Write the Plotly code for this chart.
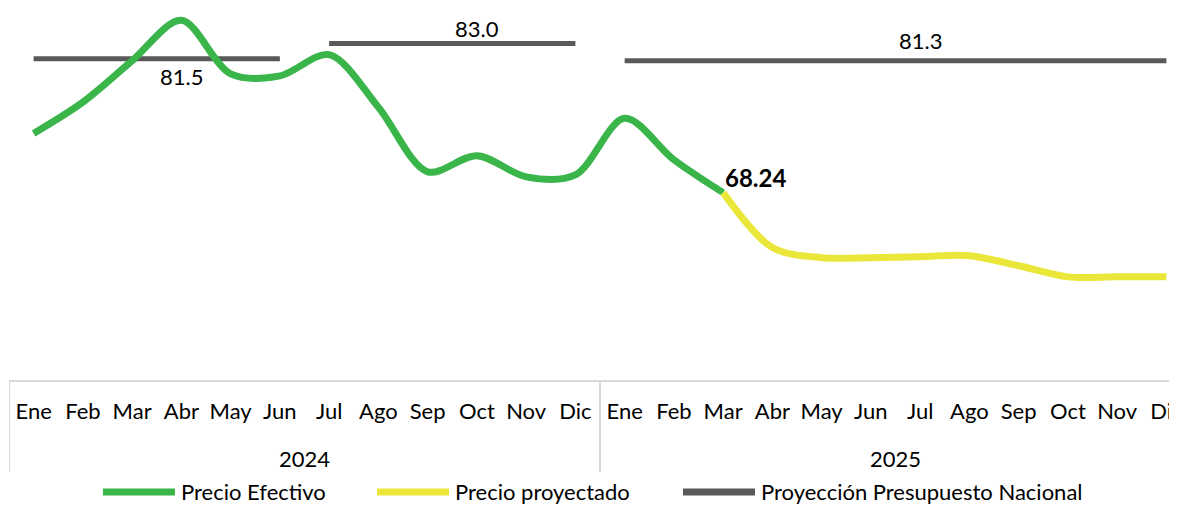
import plotly.graph_objects as go

months = ["Ene", "Feb", "Mar", "Abr", "May", "Jun", "Jul", "Ago", "Sep", "Oct", "Nov", "Dic"]
years = ["2024", "2025"]
categories = [f"{m} {y}" for y in years for m in months]

precio_efectivo = [74.1, 77.2, 81.3, 85.3, 80.0, 79.8, 81.9, 76.7, 70.3, 71.9, 69.8, 70.0,
                   75.6, 71.5, 68.24]
precio_proyectado = [68.24, 62.8, 61.8, 61.8, 61.9, 62.0, 61.0, 59.9, 59.9, 59.9]
presupuesto_2024_h1 = [81.5] * 6
presupuesto_2024_h2 = [83.0] * 6
presupuesto_2025 = [81.3] * 12

GREEN = "#39B54A"
YELLOW = "#EBE73A"
GRAY = "#595959"
FONT = "Lato"
FS = 22

xs = [i + 0.5 for i in range(len(categories))]

# page offset (default body margin of the html page)
OFF = 8
W, H = 1177 - OFF, 505 - OFF
ML, MT = 9 - OFF, 0
PLOT_BOTTOM = 380 - OFF
PW, PH = W - ML, PLOT_BOTTOM - MT
MB = H - PLOT_BOTTOM
px_per_cat = 49.25
PX_PER_UNIT = 10.1
REF_V, REF_Y = 81.5, 58.7 - OFF  # value 81.5 sits at this figure pixel row

def py(ywin):
    yf = ywin - OFF
    return (PLOT_BOTTOM - yf) / PH

def pxx(xwin):
    return (xwin - OFF - ML) / PW

fig = go.Figure()
annotations = []

segments = [(0, presupuesto_2024_h1, 3, -18), (6, presupuesto_2024_h2, 3, 15),
            (12, presupuesto_2025, 6, 20)]
for start, vals, li, shift in segments:
    fig.add_trace(go.Scatter(
        x=xs[start:start + len(vals)], y=vals, mode="lines",
        line=dict(color=GRAY, width=5), showlegend=False, hoverinfo="skip"))
    annotations.append(dict(x=xs[start + li], y=vals[li], xref="x", yref="y",
                            text=f"{vals[li]:.1f}", showarrow=False,
                            xanchor="center", yanchor="middle", yshift=shift,
                            font=dict(family=FONT, size=FS, color="#000000")))

fig.add_trace(go.Scatter(
    x=xs[:len(precio_efectivo)], y=precio_efectivo, mode="lines",
    line=dict(color=GREEN, width=7, shape="spline", smoothing=0.9),
    showlegend=False, hoverinfo="skip"))

fig.add_trace(go.Scatter(
    x=xs[len(precio_efectivo) - 1:], y=precio_proyectado, mode="lines",
    line=dict(color=YELLOW, width=7, shape="spline", smoothing=0.9),
    showlegend=False, hoverinfo="skip"))

last_i = len(precio_efectivo) - 1
annotations.append(dict(x=xs[last_i], y=precio_efectivo[last_i], xref="x", yref="y",
                        text=f"<b>{precio_efectivo[last_i]:.2f}</b>", showarrow=False,
                        xanchor="left", yanchor="middle", xshift=0, yshift=15,
                        font=dict(family=FONT, size=24, color="#000000")))

shapes = []
for xv in [0, 12]:
    shapes.append(dict(type="line", xref="x", yref="paper", x0=xv, x1=xv,
                       y0=0, y1=py(472), line=dict(color="#D9D9D9", width=2)))

for i, y in enumerate(years):
    annotations.append(dict(x=6 + 12 * i, y=py(458), xref="x", yref="paper",
                            text=y, showarrow=False, xanchor="center", yanchor="middle",
                            font=dict(family=FONT, size=FS, color="#000000")))

legend_items = [("Precio Efectivo", GREEN, 103), ("Precio proyectado", YELLOW, 377),
                ("Proyección Presupuesto Nacional", GRAY, 683)]
for name, col, x0 in legend_items:
    shapes.append(dict(type="line", xref="paper", yref="paper",
                       x0=pxx(x0), x1=pxx(x0 + 72), y0=py(492), y1=py(492),
                       line=dict(color=col, width=7)))
    annotations.append(dict(x=pxx(x0 + 76), y=py(491), xref="paper", yref="paper",
                            text=name, showarrow=False, xanchor="left", yanchor="middle",
                            font=dict(family=FONT, size=FS, color="#000000")))

y_top = REF_V + (REF_Y - MT) / PX_PER_UNIT
y_bot = REF_V - (PLOT_BOTTOM - REF_Y) / PX_PER_UNIT

fig.update_layout(
    width=W, height=H,
    margin=dict(l=ML, r=0, t=MT, b=MB, pad=0),
    paper_bgcolor="white", plot_bgcolor="white",
    showlegend=False,
    xaxis=dict(range=[0, PW / px_per_cat], tickvals=xs, ticktext=months * 2,
               showgrid=False, zeroline=False, showline=True, linecolor="#D9D9D9",
               linewidth=2, ticks="", ticklabelstandoff=11, ticklabeloverflow="allow",
               automargin=False,
               tickfont=dict(family=FONT, size=FS, color="#000000"), tickangle=0),
    yaxis=dict(range=[y_bot, y_top], visible=False),
    shapes=shapes, annotations=annotations,
)

fig.write_html("out.html")
